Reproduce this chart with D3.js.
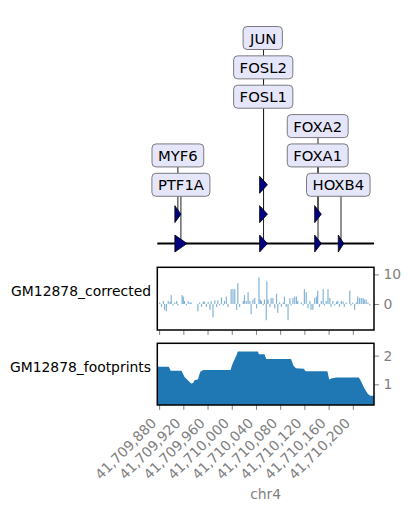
<!DOCTYPE html>
<html>
<head>
<meta charset="utf-8">
<script src="https://cdn.jsdelivr.net/npm/d3@7"></script>
<style>
  body { margin: 0; background: #fff; }
  text { font-family: "DejaVu Sans", sans-serif; }
</style>
</head>
<body>
<script>
// motif sites (top track)
const motifNames = ["PTF1A", "MYF6", "FOSL1", "FOSL2", "JUN", "FOXA1", "FOXA2", "HOXB4"];
const motifStart = [41709906, 41709906, 41710046, 41710046, 41710046, 41710137, 41710137, 41710176];
const motifEnd   = [41709926, 41709916, 41710059, 41710059, 41710059, 41710148, 41710148, 41710185];
const motifRow   = [0, 1, 0, 1, 2, 0, 1, 0];
const labelRow   = [2, 3, 5, 6, 7, 3, 4, 2];
const labelPos   = [41709916, 41709911, 41710052, 41710052, 41710052, 41710142, 41710142, 41710176];

// GM12878_corrected signal (bp position, value)
const corrPos = [41709881, 41709884, 41709887, 41709889, 41709892, 41709895, 41709898, 41709900, 41709903, 41709906,
  41709909, 41709911, 41709918, 41709920, 41709922, 41709925, 41709928, 41709931, 41709933, 41709944,
  41709947, 41709950, 41709953, 41709955, 41709958, 41709961, 41709964, 41709966, 41709969, 41709972,
  41709975, 41709977, 41709980, 41709983, 41709986, 41709988, 41709991, 41709994, 41709999, 41710002,
  41710005, 41710008, 41710010, 41710013, 41710019, 41710021, 41710024, 41710027, 41710030, 41710032,
  41710035, 41710038, 41710041, 41710045, 41710047, 41710049, 41710052, 41710054, 41710057, 41710058,
  41710060, 41710063, 41710065, 41710068, 41710071, 41710074, 41710076, 41710079, 41710082, 41710085,
  41710087, 41710090, 41710093, 41710096, 41710098, 41710101, 41710104, 41710107, 41710109, 41710115,
  41710118, 41710120, 41710123, 41710126, 41710129, 41710131, 41710134, 41710137, 41710140, 41710142,
  41710145, 41710148, 41710151, 41710153, 41710156, 41710159, 41710162, 41710164, 41710167, 41710170,
  41710173, 41710175, 41710178, 41710181, 41710184, 41710186, 41710189, 41710195, 41710197, 41710200,
  41710203, 41710206, 41710208, 41710211, 41710214, 41710217, 41710219, 41710222, 41710225, 41710228];
const corrVal = [0.5, -1, 1, -2, -2.5, 1, 0.7, 3, -0.5, 0.5,
  1, -0.5, 3, 2.5, 1, -0.5, 1, 0.5, 0.5, -2.5,
  0.5, -1, 0.8, 0.8, -1, 0.7, -2, 1, -4.5, 1.2,
  -1, 1.2, -0.5, 2.2, -0.5, 1, 2.5, -1, 5, 5,
  5, -2, 7, -1, 1, 3, 1, 4, 1, -3.5,
  1.5, 2, -1.5, 9, 1.5, 1, -0.5, 1.5, -5.5, 7.7,
  1.5, -1, 2, 2, -1.5, 3.5, -3, 0.5, -1, 0.5,
  2.5, -1, -5.5, 2, -0.5, 2, 2.5, 2.5, 1, 0.5,
  -0.5, 5, 4, -1.5, 1, -2, -2, 2, 2.5, 4.5,
  -1, 1, 5, -0.5, 1, 5, 2, -1, 1, -0.5,
  0.8, 1, -1, 1, 0.8, -1, 0.5, 4.5, -0.5, 0.5,
  -2, 0.5, 2.5, 2, 2, 2, 1.5, 1.5, 0.5, -0.5];

// GM12878_footprints profile (breakpoints)
const fpPos = [41709877, 41709896, 41709899, 41709917, 41709922, 41709930, 41709933, 41709936, 41709939, 41709944,
  41709948, 41709953, 41709998, 41710001, 41710005, 41710008, 41710010, 41710043, 41710045, 41710054,
  41710057, 41710098, 41710102, 41710106, 41710119, 41710122, 41710158, 41710161, 41710164, 41710173,
  41710210, 41710214, 41710219, 41710225, 41710229, 41710235];
const fpVal = [1.61, 1.61, 1.47, 1.47, 1.26, 1.09, 1.03, 1.05, 1.15, 1.17,
  1.44, 1.50, 1.50, 1.70, 1.88, 2.02, 2.14, 2.14, 2.05, 2.05,
  1.88, 1.88, 1.65, 1.56, 1.54, 1.46, 1.46, 1.17, 1.20, 1.24,
  1.24, 1.09, 0.86, 0.66, 0.60, 0.60];

const xTicks = [41709880, 41709920, 41709960, 41710000, 41710040, 41710080, 41710120, 41710160, 41710200];
const corrTicks = [0, 10];
const fpTicks = [1, 2];
const trackNames = ["GM12878_corrected", "GM12878_footprints"];

const width = 411, height = 511;
const blue = "#1f77b4", tickGray = "#808080";

const svg = d3.select("body").append("svg")
    .attr("width", width)
    .attr("height", height);

const x = d3.scaleLinear().domain([41709877, 41710235]).range([157.3, 374]);

// ---- motif track ----
const lane = d3.scaleLinear().domain([0, 7]).range([243.5, 38]);
const motifs = motifNames.map((name, i) => ({
    name: name, start: motifStart[i], end: motifEnd[i],
    row: motifRow[i], lrow: labelRow[i], lpos: labelPos[i]
}));

const motifG = svg.append("g");

// stems
motifG.selectAll("line.stem")
    .data(motifs)
    .enter()
    .append("line")
    .attr("class", "stem")
    .attr("x1", d => x((d.start + d.end) / 2))
    .attr("x2", d => x((d.start + d.end) / 2))
    .attr("y1", d => lane(d.row))
    .attr("y2", d => lane(d.lrow))
    .style("stroke", "#222")
    .style("stroke-width", 1);

motifG.append("line")
    .attr("x1", x.range()[0]).attr("x2", x.range()[1])
    .attr("y1", lane(0)).attr("y2", lane(0))
    .style("stroke", "black")
    .style("stroke-width", 2);

motifG.selectAll("path.site")
    .data(motifs)
    .enter()
    .append("path")
    .attr("class", "site")
    .attr("d", d => {
        const x0 = x(d.start), x1 = x(d.end), y = lane(d.row), h = 8.5;
        return `M${x0},${y - h}L${x1},${y}L${x0},${y + h}Z`;
    })
    .style("fill", "#000080")
    .style("stroke", "black")
    .style("stroke-width", 0.8);

const labels = motifG.selectAll("g.lab")
    .data(motifs)
    .enter()
    .append("g")
    .attr("class", "lab")
    .attr("transform", d => `translate(${x(d.lpos)},${lane(d.lrow)})`);

labels.append("text")
    .attr("text-anchor", "middle")
    .attr("y", 5.5)
    .style("font-size", "14.8px")
    .style("fill", "black")
    .text(d => d.name);

labels.each(function () {
    const g = d3.select(this);
    const bb = g.select("text").node().getBBox();
    g.insert("rect", "text")
        .attr("x", bb.x - 6)
        .attr("y", -11.5)
        .attr("width", bb.width + 12)
        .attr("height", 23)
        .attr("rx", 4)
        .style("fill", "#e6e6fa")
        .style("stroke", "#7a7a80")
        .style("stroke-width", 1);
});

// ---- signal panels ----
function panel(y0, y1, domain, ticks, name, showX) {
    const y = d3.scaleLinear().domain(domain).range([y1, y0]);
    const g = svg.append("g");
    g.append("text")
        .attr("x", 151)
        .attr("y", (y0 + y1) / 2 - 2.3)
        .attr("text-anchor", "end")
        .style("font-size", "13.9px")
        .text(name);

    const yAxis = g.append("g")
        .attr("transform", `translate(${x.range()[1]},0)`)
        .call(d3.axisRight(y).tickValues(ticks).tickSize(4.9).tickPadding(4.5).tickFormat(d3.format("d")));
    const xAxis = g.append("g")
        .attr("transform", `translate(0,${y1})`)
        .call(d3.axisBottom(x).tickValues(xTicks).tickSize(4.9).tickFormat(showX ? d3.format(",") : ""));
    [yAxis, xAxis].forEach(a => {
        a.select(".domain").remove();
        a.selectAll(".tick line").style("stroke", tickGray).style("stroke-width", 1);
        a.selectAll(".tick text").style("fill", tickGray).style("font-size", "13.9px")
            .style("font-family", "DejaVu Sans");
    });
    if (showX) {
        xAxis.selectAll(".tick text")
            .attr("text-anchor", "end")
            .attr("dy", null)
            .attr("y", null)
            .attr("transform", "translate(-2.3,19) rotate(-45)");
    }
    return { g: g, y: y };
}

const p1 = panel(267.3, 330, [-8.8, 12.4], corrTicks, trackNames[0], false);
const bars = corrPos.map((p, i) => ({ pos: p, val: corrVal[i] }));
p1.g.append("g")
    .selectAll("rect")
    .data(bars)
    .enter()
    .append("rect")
    .attr("x", d => x(d.pos) - 0.6)
    .attr("width", 1.2)
    .attr("y", d => p1.y(Math.max(0, d.val)))
    .attr("height", d => Math.abs(p1.y(d.val) - p1.y(0)))
    .style("fill", blue)
    .style("opacity", 0.55);

const p2 = panel(343.3, 405, [0.28, 2.43], fpTicks, trackNames[1], true);
const fp = fpPos.map((p, i) => ({ pos: p, val: fpVal[i] }));
p2.g.append("path")
    .datum(fp)
    .attr("d", d3.area().x(d => x(d.pos)).y0(p2.y(0.28)).y1(d => p2.y(d.val)))
    .style("fill", blue);

// frames
[[267.3, 330], [343.3, 405]].forEach(r => {
    svg.append("rect")
        .attr("x", x.range()[0]).attr("y", r[0])
        .attr("width", x.range()[1] - x.range()[0])
        .attr("height", r[1] - r[0])
        .style("fill", "none")
        .style("stroke", "black")
        .style("stroke-width", 1.5);
});

svg.append("text")
    .attr("x", (x.range()[0] + x.range()[1]) / 2)
    .attr("y", 499)
    .attr("text-anchor", "middle")
    .style("font-size", "13.9px")
    .style("fill", tickGray)
    .text("chr4");
</script>
</body>
</html>
